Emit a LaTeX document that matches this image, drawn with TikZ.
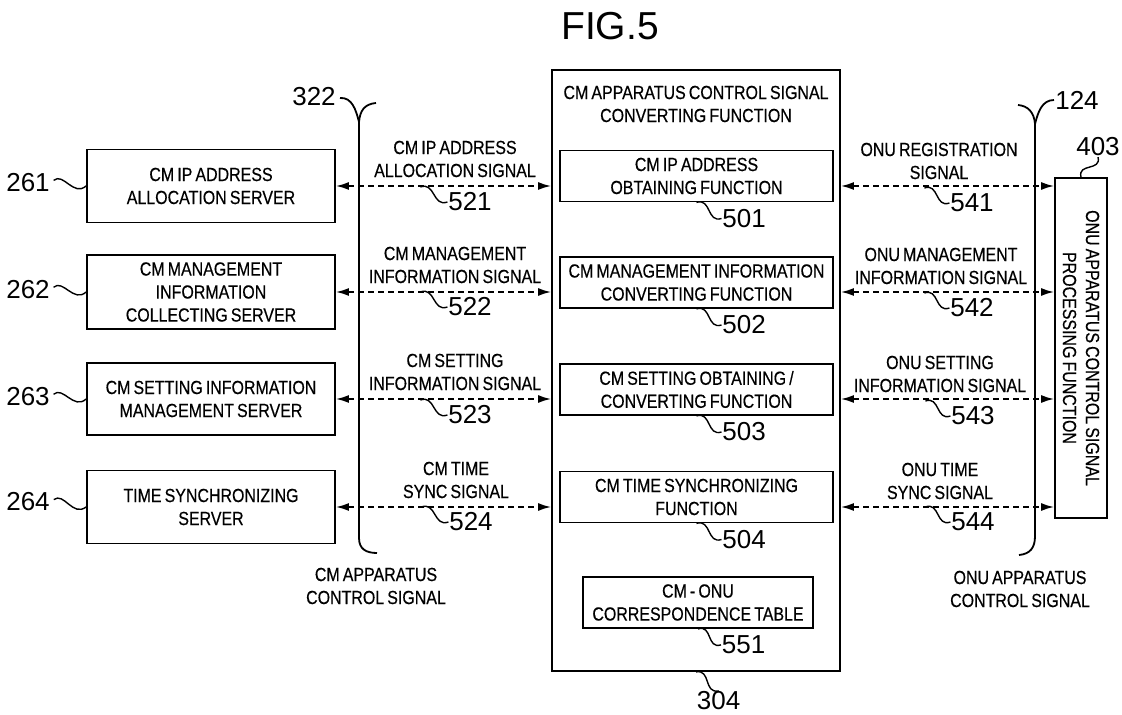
\documentclass[tikz,border=0pt]{standalone}
\usepackage{fontspec}
\setmainfont{Liberation Sans}
\newfontfamily\condfont[FakeStretch=0.84,WordSpace=0.7,FakeBold=0.4]{Liberation Sans}
\usetikzlibrary{positioning,calc,arrows.meta}

\tikzset{
  box/.style={draw, line width=0.9pt, inner sep=0pt, align=center, font=\condfont\fontsize{9.5}{11.5}\selectfont},
  lbl/.style={inner sep=0pt, align=center, font=\condfont\fontsize{9.5}{11.5}\selectfont},
  num/.style={inner sep=0pt, font=\fontsize{13}{13}\selectfont},
  sig/.style={line width=0.9pt, dash pattern=on 3pt off 2pt, {Latex[length=6.5pt,width=4pt]}-{Latex[length=6.5pt,width=4pt]}},
  lead/.style={line width=0.7pt, to path={.. controls ($(\tikztostart)!0.33!(\tikztotarget)!6pt!90:(\tikztotarget)$) and ($(\tikztostart)!0.67!(\tikztotarget)!6pt!-90:(\tikztotarget)$) .. (\tikztotarget)}},
}

\begin{document}
\begin{tikzpicture}[x=0.5pt, y=-0.5pt, line width=0.9pt]
  \useasboundingbox (0,0) rectangle (1122,715);

  \node[font=\fontsize{19.5}{20}\selectfont, inner sep=0pt] (fig) at (610,26) {FIG.5};

  % servers
  \node[box, minimum width=124pt, minimum height=36.5pt] (srv1) at (211,186) {CM IP ADDRESS\\ALLOCATION SERVER};
  \node[box, minimum width=124pt, minimum height=37pt] (srv2) at (211,292) {CM MANAGEMENT\\INFORMATION\\COLLECTING SERVER};
  \node[box, minimum width=124pt, minimum height=36pt] (srv3) at (211,399) {CM SETTING INFORMATION\\MANAGEMENT SERVER};
  \node[box, minimum width=124pt, minimum height=36.5pt] (srv4) at (211,507) {TIME SYNCHRONIZING\\SERVER};

  \node[num] (n261) at (28,183) {261};
  \node[num] (n262) at (28,290) {262};
  \node[num] (n263) at (28,397) {263};
  \node[num] (n264) at (28,502) {264};
  \draw[lead, shorten <=2pt] (n261.east) to (srv1.west);
  \draw[lead, shorten <=2pt] (n262.east) to (srv2.west);
  \draw[lead, shorten <=2pt] (n263.east) to (srv3.west);
  \draw[lead, shorten <=2pt] (n264.east) to (srv4.west);

  % converting function
  \node[box, minimum width=144pt, minimum height=300.5pt] (conv) at (696,370.5) {};
  \node[lbl] (convtitle) at (696,104) {CM APPARATUS CONTROL SIGNAL\\CONVERTING FUNCTION};
  \node[box, minimum width=136.5pt, minimum height=25.5pt] (fn1) at (696.5,176) {CM IP ADDRESS\\OBTAINING FUNCTION};
  \node[box, minimum width=136.5pt, minimum height=25.5pt] (fn2) at (696.5,282.5) {CM MANAGEMENT INFORMATION\\CONVERTING FUNCTION};
  \node[box, minimum width=136.5pt, minimum height=25.5pt] (fn3) at (696.5,389.5) {CM SETTING OBTAINING /\\CONVERTING FUNCTION};
  \node[box, minimum width=136.5pt, minimum height=25.5pt] (fn4) at (696.5,497) {CM TIME SYNCHRONIZING\\FUNCTION};
  \node[box, minimum width=115pt, minimum height=25.5pt] (table) at (698,602.5) {CM - ONU\\CORRESPONDENCE TABLE};

  \node[num, below right=3pt and 12.5pt of fn1.south] (n501) {501};
  \node[num, below right=3pt and 12.5pt of fn2.south] (n502) {502};
  \node[num, below right=3pt and 12.5pt of fn3.south] (n503) {503};
  \node[num, below right=3pt and 12.5pt of fn4.south] (n504) {504};
  \node[num, below right=3pt and 11.5pt of table.south] (n551) {551};
  \node[num, below right=9.5pt and 0pt of conv.south] (n304) {304};
  \draw[lead] (fn1.south) to (n501.west);
  \draw[lead] (fn2.south) to (n502.west);
  \draw[lead] (fn3.south) to (n503.west);
  \draw[lead] (fn4.south) to (n504.west);
  \draw[lead] (table.south) to (n551.west);
  \draw[lead] (conv.south) to (n304.north);

  % ONU side
  \node[draw, line width=0.9pt, minimum width=26pt, minimum height=170pt, inner sep=0pt] (onu) at (1081,348) {};
  \node[lbl, rotate=-90] (onutext) at (onu) {ONU APPARATUS CONTROL SIGNAL\\PROCESSING FUNCTION};
  \node[num] (n403) at (1098,147) {403};
  \draw[lead] (onu.north) to (n403.south);

  % CM apparatus control signals
  \draw[sig] (srv1.east) -- (srv1.east -| conv.west);
  \draw[sig] (srv2.east) -- (srv2.east -| conv.west);
  \draw[sig] (srv3.east) -- (srv3.east -| conv.west);
  \draw[sig] (srv4.east) -- (srv4.east -| conv.west);
  \node[lbl] (s521) at (455,159) {CM IP ADDRESS\\ALLOCATION SIGNAL};
  \node[lbl] (s522) at (455,265) {CM MANAGEMENT\\INFORMATION SIGNAL};
  \node[lbl] (s523) at (455,372) {CM SETTING\\INFORMATION SIGNAL};
  \node[lbl] (s524) at (456,480) {CM TIME\\SYNC SIGNAL};
  \node[num] (n521) at (470,202) {521};
  \node[num] (n522) at (470,307) {522};
  \node[num] (n523) at (470,415) {523};
  \node[num] (n524) at (471,522) {524};
  \draw[lead] (n521.west) ++(-27,-15) to (n521.west);
  \draw[lead] (n522.west) ++(-27,-15) to (n522.west);
  \draw[lead] (n523.west) ++(-27,-15) to (n523.west);
  \draw[lead] (n524.west) ++(-27,-15) to (n524.west);

  % ONU apparatus control signals
  \draw[sig] (conv.east |- srv1.east) -- (onu.west |- srv1.east);
  \draw[sig] (conv.east |- srv2.east) -- (onu.west |- srv2.east);
  \draw[sig] (conv.east |- srv3.east) -- (onu.west |- srv3.east);
  \draw[sig] (conv.east |- srv4.east) -- (onu.west |- srv4.east);
  \node[lbl] (s541) at (939,161) {ONU REGISTRATION\\SIGNAL};
  \node[lbl] (s542) at (941,266) {ONU MANAGEMENT\\INFORMATION SIGNAL};
  \node[lbl] (s543) at (940,374) {ONU SETTING\\INFORMATION SIGNAL};
  \node[lbl] (s544) at (940,481) {ONU TIME\\SYNC SIGNAL};
  \node[num] (n541) at (972,203) {541};
  \node[num] (n542) at (972,308) {542};
  \node[num] (n543) at (973,416) {543};
  \node[num] (n544) at (973,522) {544};
  \draw[lead] (n541.west) ++(-25,-15) to (n541.west);
  \draw[lead] (n542.west) ++(-25,-15) to (n542.west);
  \draw[lead] (n543.west) ++(-25,-15) to (n543.west);
  \draw[lead] (n544.west) ++(-25,-15) to (n544.west);

  % brackets
  \node[num] (n322) at (314,97) {322};
  \draw (340,98) .. controls (352,97) and (356,110) .. (359,122) -- (359,538) .. controls (359,549) and (366,553) .. (377,553);
  \draw (359,122) .. controls (360,110) and (365,104) .. (376,103);
  \node[lbl] (cmsig) at (376,586) {CM APPARATUS\\CONTROL SIGNAL};

  \node[num] (n124) at (1077,100) {124};
  \draw (1054,100) .. controls (1042,100) and (1038,112) .. (1035,124) -- (1035,536) .. controls (1035,548) and (1030,554) .. (1019,555);
  \draw (1035,124) .. controls (1034,112) and (1028,106) .. (1018,105);
  \node[lbl] (onusig) at (1020,589) {ONU APPARATUS\\CONTROL SIGNAL};
\end{tikzpicture}
\end{document}
